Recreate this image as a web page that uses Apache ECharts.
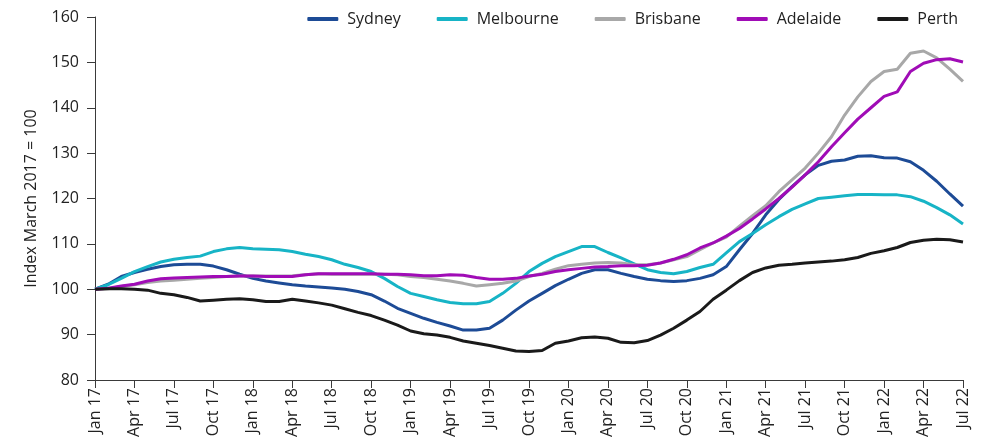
<!DOCTYPE html>
<html>
<head>
<meta charset="utf-8">
<script src="https://cdn.jsdelivr.net/npm/echarts@6/dist/echarts.min.js"></script>
<style>
  html, body { margin: 0; padding: 0; background: #fff; }
  #chart { width: 991px; height: 443px; }
</style>
</head>
<body>
<div id="chart"></div>
<script>
// monthly categories, Jan 17 .. Jul 22
const months = [
  'Jan 17','Feb 17','Mar 17','Apr 17','May 17','Jun 17','Jul 17','Aug 17','Sep 17','Oct 17','Nov 17','Dec 17',
  'Jan 18','Feb 18','Mar 18','Apr 18','May 18','Jun 18','Jul 18','Aug 18','Sep 18','Oct 18','Nov 18','Dec 18',
  'Jan 19','Feb 19','Mar 19','Apr 19','May 19','Jun 19','Jul 19','Aug 19','Sep 19','Oct 19','Nov 19','Dec 19',
  'Jan 20','Feb 20','Mar 20','Apr 20','May 20','Jun 20','Jul 20','Aug 20','Sep 20','Oct 20','Nov 20','Dec 20',
  'Jan 21','Feb 21','Mar 21','Apr 21','May 21','Jun 21','Jul 21','Aug 21','Sep 21','Oct 21','Nov 21','Dec 21',
  'Jan 22','Feb 22','Mar 22','Apr 22','May 22','Jun 22','Jul 22'
];

const sydney = [
  100, 101.1, 102.8, 103.7, 104.4, 105.0, 105.4, 105.5, 105.5, 105.1, 104.3, 103.3,
  102.4, 101.8, 101.4, 101.0, 100.7, 100.5, 100.3, 100.0, 99.5, 98.8, 97.4, 95.8,
  94.7, 93.6, 92.7, 91.9, 91.0, 91.0, 91.4, 93.2, 95.4, 97.4, 99.1, 100.8,
  102.2, 103.5, 104.3, 104.3, 103.5, 102.8, 102.2, 101.9, 101.7, 101.9, 102.4, 103.2,
  105.0, 108.7, 112.3, 116.4, 119.8, 122.6, 125.2, 127.3, 128.2, 128.5, 129.3, 129.4,
  129.0, 128.9, 128.1, 126.2, 123.8, 121.0, 118.3
];

const melbourne = [
  100, 101.0, 102.4, 103.9, 105.0, 106.0, 106.6, 107.0, 107.3, 108.3, 108.9, 109.2,
  108.9, 108.8, 108.7, 108.3, 107.7, 107.2, 106.5, 105.5, 104.8, 103.9, 102.4, 100.6,
  99.1, 98.4, 97.7, 97.1, 96.8, 96.8, 97.3, 99.1, 101.3, 103.9, 105.7, 107.2,
  108.3, 109.4, 109.4, 108.1, 106.9, 105.6, 104.3, 103.7, 103.4, 103.9, 104.8, 105.5,
  108.0, 110.5, 112.3, 114.2, 116.0, 117.6, 118.8, 120.0, 120.3, 120.6, 120.9, 120.9,
  120.8, 120.8, 120.4, 119.4, 118.0, 116.4, 114.4
];

const brisbane = [
  100, 100.1, 100.6, 101.0, 101.5, 101.8, 102.0, 102.2, 102.4, 102.6, 102.8, 102.9,
  102.9, 102.9, 102.9, 103.0, 103.2, 103.4, 103.3, 103.3, 103.3, 103.3, 103.3, 103.2,
  102.8, 102.6, 102.2, 101.8, 101.3, 100.7, 101.0, 101.3, 101.8, 102.8, 103.5, 104.4,
  105.2, 105.5, 105.8, 105.9, 105.8, 105.4, 105.4, 105.8, 106.5, 107.2, 108.7, 110.2,
  111.5, 113.9, 116.2, 118.4, 121.5, 124.1, 126.7, 130.0, 133.6, 138.4, 142.4, 145.8,
  148.0, 148.5, 152.0, 152.5, 151.0, 148.5, 145.8
];

const adelaide = [
  100, 100.2, 100.7, 101.1, 101.8, 102.3, 102.5, 102.6, 102.7, 102.8, 102.8, 102.9,
  102.9, 102.8, 102.8, 102.8, 103.2, 103.4, 103.4, 103.4, 103.4, 103.4, 103.3, 103.3,
  103.2, 103.0, 103.0, 103.2, 103.1, 102.6, 102.2, 102.2, 102.4, 102.9, 103.3, 103.9,
  104.3, 104.6, 104.9, 105.0, 105.2, 105.2, 105.3, 105.8, 106.6, 107.6, 109.1, 110.2,
  111.7, 113.4, 115.5, 117.7, 120.0, 122.5, 125.2, 128.1, 131.4, 134.5, 137.5, 140.0,
  142.5, 143.5, 148.0, 149.8, 150.6, 150.8, 150.1
];

const perth = [
  100, 100.1, 100.1, 100.0, 99.8, 99.1, 98.8, 98.2, 97.4, 97.6, 97.8, 97.9,
  97.7, 97.3, 97.3, 97.8, 97.4, 97.0, 96.5, 95.7, 94.9, 94.2, 93.2, 92.1,
  90.8, 90.2, 89.9, 89.4, 88.6, 88.1, 87.6, 87.0, 86.4, 86.3, 86.5, 88.1,
  88.6, 89.3, 89.5, 89.2, 88.3, 88.2, 88.7, 89.9, 91.4, 93.2, 95.1, 97.8,
  99.8, 101.9, 103.7, 104.7, 105.3, 105.5, 105.8, 106.0, 106.2, 106.5, 107.0, 107.9,
  108.5, 109.2, 110.3, 110.8, 111.0, 110.9, 110.4
];

const seriesDefs = [
  { name: 'Sydney', data: sydney, color: '#1d4b96' },
  { name: 'Melbourne', data: melbourne, color: '#17b4c6' },
  { name: 'Brisbane', data: brisbane, color: '#a8a8a8' },
  { name: 'Adelaide', data: adelaide, color: '#a00cb6' },
  { name: 'Perth', data: perth, color: '#1a1a1a' },
];

const font = 'Open Sans, Noto Sans, sans-serif';
const axisColor = '#3a3a3a';
const textColor = '#222';

const chart = echarts.init(document.getElementById('chart'));

chart.setOption({
  animation: false,
  legend: {
    top: 6,
    right: 28,
    icon: 'roundRect',
    itemWidth: 31,
    itemHeight: 4,
    itemGap: 36,
    textStyle: { fontFamily: font, fontSize: 16, color: textColor, padding: [0, 0, 0, 4] },
    data: seriesDefs.map(s => s.name),
  },
  grid: {
    left: 95,
    right: 28,
    top: 17,
    bottom: 63,
  },
  xAxis: {
    type: 'category',
    boundaryGap: false,
    data: months,
    axisLine: { lineStyle: { color: axisColor, width: 1 } },
    axisTick: { interval: 2, length: 8, lineStyle: { color: axisColor } },
    axisLabel: {
      interval: 2,
      rotate: 90,
      margin: 8,
      fontFamily: font,
      fontSize: 16,
      color: textColor,
    },
    splitLine: { show: false },
  },
  yAxis: {
    type: 'value',
    min: 80,
    max: 160,
    interval: 10,
    name: 'Index March 2017 = 100',
    nameLocation: 'middle',
    nameGap: 56,
    nameTextStyle: { fontFamily: font, fontSize: 16, color: textColor },
    axisLine: { show: true, lineStyle: { color: axisColor, width: 1 } },
    axisTick: { show: true, length: 8, lineStyle: { color: axisColor } },
    axisLabel: { margin: 16, fontFamily: font, fontSize: 16, color: textColor },
    splitLine: { show: false },
  },
  series: seriesDefs.map(s => ({
    name: s.name,
    type: 'line',
    data: s.data,
    showSymbol: false,
    symbol: 'none',
    lineStyle: { width: 3, color: s.color },
    itemStyle: { color: s.color },
  })),
});
</script>
</body>
</html>
